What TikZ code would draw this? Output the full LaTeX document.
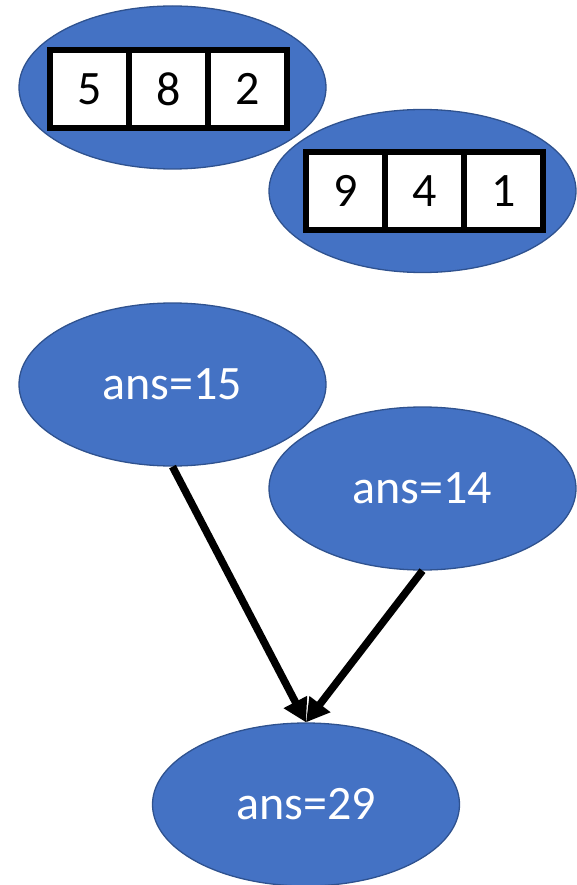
\documentclass[tikz,border=0pt]{standalone}
\usepackage{fontspec}
\setmainfont{Carlito}
\usetikzlibrary{shapes.geometric,arrows.meta}
\definecolor{blob}{HTML}{4472C4}
\definecolor{blobline}{HTML}{2F528F}
\tikzset{
  blobnode/.style={ellipse, fill=blob, draw=blobline, line width=1.3pt,
    minimum width=307pt, minimum height=163pt, inner sep=0pt,
    text=white, font=\fontsize{48}{50}\selectfont},
  cell/.style={rectangle, fill=white, draw=black, line width=6pt,
    minimum width=79pt, minimum height=78pt, inner sep=0pt,
    font=\fontsize{48}{50}\selectfont},
  arr/.style={line width=7.5pt, draw=black,
    -{Triangle[length=23pt,width=25pt]}}
}
\begin{document}
\begin{tikzpicture}[x=1pt,y=1pt]
\useasboundingbox (0,0) rectangle (576,-885);
% top-left array
\node[blobnode] (e1) at (172.5,-87.5) {};
\node[cell] (a1) at (89.5,-89) {5};
\node[cell] (a2) at (168.5,-89) {8};
\node[cell] (a3) at (247.5,-89) {2};
% right array
\node[blobnode] (e2) at (422.5,-191) {};
\node[cell] (b1) at (345.5,-191) {9};
\node[cell] (b2) at (424.5,-191) {4};
\node[cell] (b3) at (503.5,-191) {1};
% answer nodes
\node[blobnode] (e3) at (172.5,-384.5) {ans=15};
\node[blobnode] (e4) at (422.5,-488.5) {ans=14};
\node[blobnode] (e5) at (306,-804.5) {ans=29};
% arrows
\draw[arr] (e3.south) -- (e5.north);
\draw[arr] (e4.south) -- (e5.north);
\end{tikzpicture}
\end{document}
